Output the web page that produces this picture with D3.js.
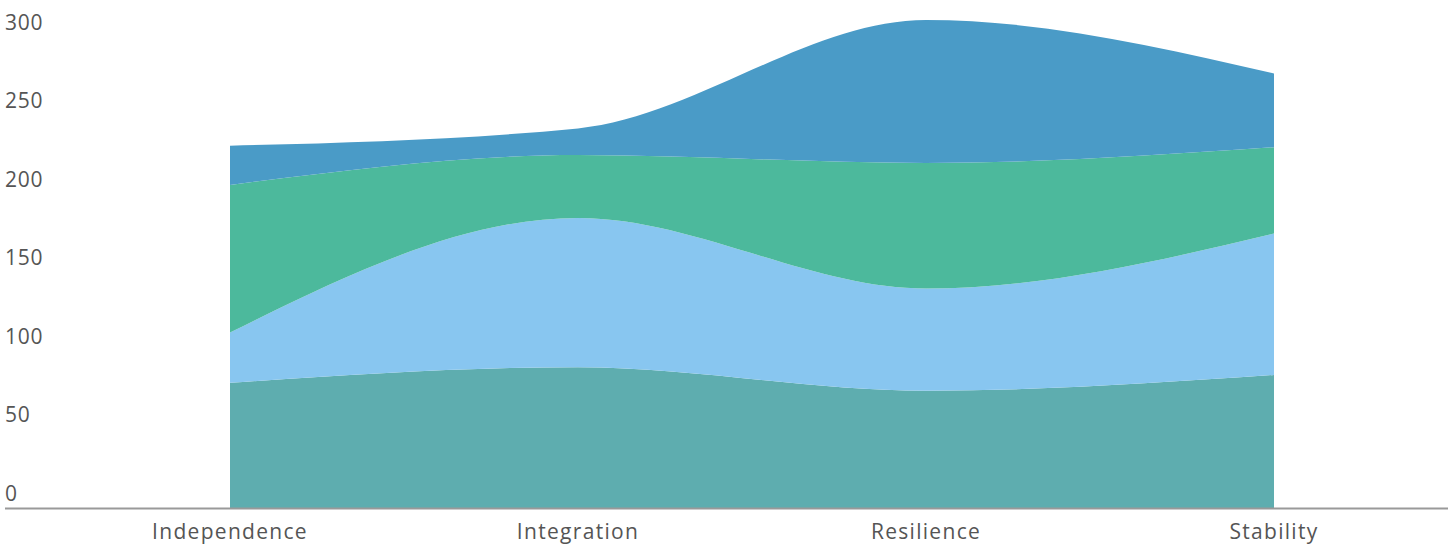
<!DOCTYPE html>
<html>
<head>
<meta charset="utf-8">
<script src="https://cdn.jsdelivr.net/npm/d3@7"></script>
<style>
  body { margin: 0; background: #fff; }
  svg text { font-family: "Open Sans", sans-serif; fill: #555; }
</style>
</head>
<body>
<svg id="chart"></svg>
<script>
// categories along x
const categories = ['Independence', 'Integration', 'Resilience', 'Stability'];

// series, bottom to top
const seriesNames = ['teal', 'sky', 'green', 'blue'];
const tealValues  = [80, 90, 75, 85];
const skyValues   = [32, 95, 65, 90];
const greenValues = [94, 40, 80, 55];
const blueValues  = [25, 17, 91, 47];

const yTicks = [0, 50, 100, 150, 200, 250, 300];

const colors = ['#5eadaf', '#88c6f0', '#4cb99c', '#4a9bc7'];

class StackedArea {

    constructor(config, data) {
        this.config = {
            parent: config.parent,
            width: config.width || 1455,
            height: config.height || 545,
            left: 230,
            right: 1274,
            top: 20,
            bottom: 508.5
        };
        this.data = data;
        this.init();
    }

    init() {
        let self = this;
        const c = self.config;

        self.svg = d3.select(c.parent)
            .attr('width', c.width)
            .attr('height', c.height);

        self.xscale = d3.scalePoint()
            .domain(categories)
            .range([c.left, c.right]);

        self.stack = d3.stack().keys(seriesNames);
        self.series = self.stack(self.data);

        const ymax = d3.max(self.series[self.series.length - 1], d => d[1]);
        self.yscale = d3.scaleLinear()
            .domain([0, ymax])
            .range([c.bottom, c.top]);

        self.area = d3.area()
            .x(d => self.xscale(d.data.category))
            .y0(d => self.yscale(d[0]))
            .y1(d => self.yscale(d[1]))
            .curve(d3.curveMonotoneX);
    }

    render() {
        let self = this;

        self.svg.append('g')
            .selectAll('path')
            .data(self.series)
            .join('path')
            .attr('fill', (d, i) => colors[i])
            .attr('d', self.area);

        // baseline
        self.svg.append('line')
            .attr('x1', 5)
            .attr('x2', 1448)
            .attr('y1', self.yscale(0))
            .attr('y2', self.yscale(0))
            .attr('stroke', '#999')
            .attr('stroke-width', 2);

        // y labels sit above their tick value
        self.svg.append('g')
            .selectAll('text')
            .data(yTicks)
            .join('text')
            .attr('x', 5)
            .attr('y', d => self.yscale(d) - 7.5)
            .attr('font-size', 21)
            .attr('letter-spacing', 0.8)
            .text(d => d);

        self.svg.append('g')
            .selectAll('text')
            .data(categories)
            .join('text')
            .attr('x', d => self.xscale(d))
            .attr('y', 539)
            .attr('text-anchor', 'middle')
            .attr('font-size', 21)
            .attr('letter-spacing', 1.3)
            .text(d => d);
    }
}

const data = categories.map((cat, i) => ({
    category: cat,
    teal: tealValues[i],
    sky: skyValues[i],
    green: greenValues[i],
    blue: blueValues[i]
}));

const chart = new StackedArea({ parent: '#chart' }, data);
chart.render();
</script>
</body>
</html>
